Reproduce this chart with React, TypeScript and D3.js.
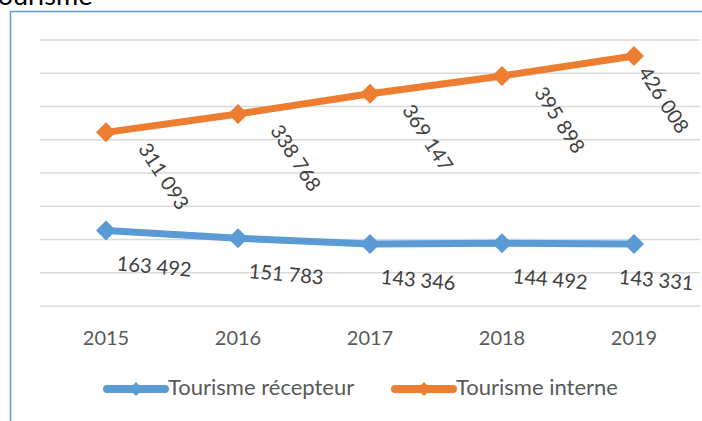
import React from "react";
import * as d3 from "d3";

const years = ["2015", "2016", "2017", "2018", "2019"];
const recepteur = [163492, 151783, 143346, 144492, 143331];
const interne = [311093, 338768, 369147, 395898, 426008];
const gridTicks = [50000, 100000, 150000, 200000, 250000, 300000, 350000, 400000, 450000];

const BLUE = "#5B9BD5";
const ORANGE = "#ED7D31";
const FONT = "Lato, 'Open Sans', sans-serif";

const fr = d3.formatLocale({ decimal: ",", thousands: " ", grouping: [3], currency: ["", " €"] });
const fmt = fr.format(",");

const diamond = (r: number) => `M0,${-r}L${r},0L0,${r}L${-r},0Z`;

const App = () => {
  const width = 702;
  const height = 421;
  const margin = { top: 40, right: 2, bottom: 115, left: 40 };

  const x = d3.scaleBand()
    .domain(years)
    .range([margin.left, width - margin.right])
    .padding(0);
  const cx = (d: string) => (x(d) as number) + x.bandwidth() / 2;

  const y = d3.scaleLinear()
    .domain([50000, 450000])
    .range([height - margin.bottom, margin.top]);

  const line = d3.line<number>()
    .x((_, i) => cx(years[i]))
    .y(d => y(d));

  const series = [
    { name: "Tourisme récepteur", values: recepteur, color: BLUE },
    { name: "Tourisme interne", values: interne, color: ORANGE },
  ];

  return (
    <svg width={width} height={height} style={{ position: "absolute", left: 0, top: 0 }}>
      <rect width={width} height={height} fill="#fff" />
      <text x={-15} y={5} fontFamily={FONT} fontSize={27} fill="#000">Tourisme</text>
      <rect x={10.5} y={11.5} width={width} height={height} fill="none" stroke={BLUE} strokeWidth={1.5} />

      {gridTicks.map(t => (
        <line key={t} x1={margin.left} x2={width - margin.right} y1={y(t)} y2={y(t)}
          stroke="#D9D9D9" strokeWidth={1.5} />
      ))}

      {years.map(yr => (
        <text key={yr} x={cx(yr)} y={345} textAnchor="middle" fontFamily={FONT} fontSize={20} fill="#595959">{yr}</text>
      ))}

      {series.map(s => (
        <g key={s.name}>
          <path d={line(s.values) || ""} fill="none" stroke={s.color} strokeWidth={7} strokeLinejoin="round" />
          {s.values.map((v, i) => (
            <path key={i} d={diamond(10)} transform={`translate(${cx(years[i])},${y(v)})`} fill={s.color} />
          ))}
        </g>
      ))}

      {recepteur.map((v, i) => (
        <text key={"r" + i} transform={`translate(${Math.min(cx(years[i]) + 48, 656)},${y(v) + 38}) rotate(5)`}
          textAnchor="middle" dominantBaseline="middle" fontFamily={FONT} fontSize={20} fill="#404040">{fmt(v)}</text>
      ))}
      {interne.map((v, i) => (
        <text key={"i" + i} transform={`translate(${Math.min(cx(years[i]) + 56, 662)},${y(v) + 45}) rotate(57)`}
          textAnchor="middle" dominantBaseline="middle" fontFamily={FONT} fontSize={20} fill="#404040">{fmt(v)}</text>
      ))}

      {series.map((s, i) => {
        const lx = i === 0 ? 107 : 395;
        return (
          <g key={"leg" + i} transform={`translate(${lx},389)`}>
            <line x1={0} x2={58} y1={0} y2={0} stroke={s.color} strokeWidth={8} strokeLinecap="round" />
            <path d={diamond(7)} transform="translate(29,0)" fill={s.color} />
            <text x={61} y={0} dominantBaseline="middle" fontFamily={FONT} fontSize={22} fill="#595959">{s.name}</text>
          </g>
        );
      })}
    </svg>
  );
};

export default App;
